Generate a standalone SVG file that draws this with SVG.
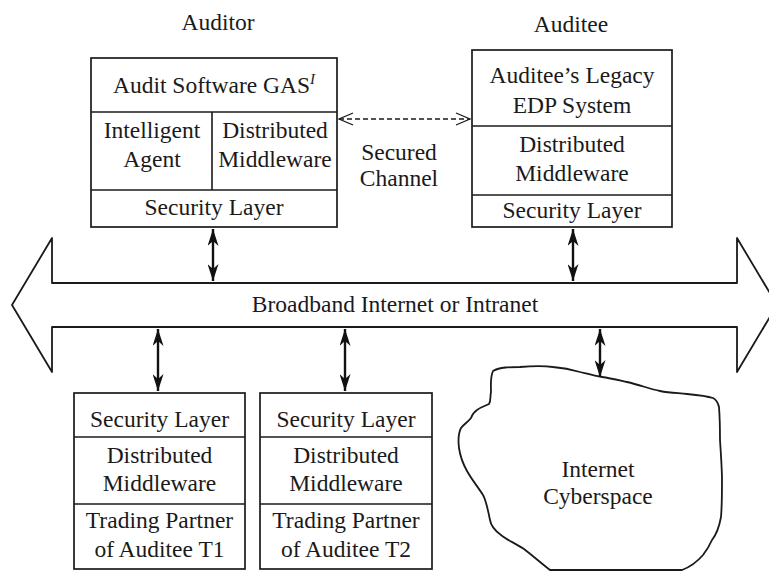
<svg xmlns="http://www.w3.org/2000/svg" width="769" height="572" viewBox="0 0 769 572">
<style>
  text { font-family: "Liberation Serif", "Times New Roman", serif; font-size: 23.5px; fill: #1a1a1a; text-anchor: middle; }
  .box { fill: #fff; stroke: #1a1a1a; stroke-width: 1.7; }
  .div { stroke: #1a1a1a; stroke-width: 1.6; fill: none; }
  .shape { fill: #fff; stroke: #1a1a1a; stroke-width: 1.8; stroke-linejoin: round; }
  .dbl { stroke: #111; stroke-width: 2.4; fill: none; marker-start: url(#solidHead); marker-end: url(#solidHead); }
  .dash { stroke: #1a1a1a; stroke-width: 1.3; stroke-dasharray: 5 3; fill: none; marker-start: url(#openHead); marker-end: url(#openHead); }
</style>
<defs>
  <marker id="solidHead" viewBox="0 0 17 11" refX="17" refY="5.5" markerWidth="17" markerHeight="11" markerUnits="userSpaceOnUse" orient="auto-start-reverse">
    <path d="M0,0 L17,5.5 L0,11 L5,5.5 z" fill="#111"/>
  </marker>
  <marker id="openHead" viewBox="0 0 16 14" refX="15" refY="7" markerWidth="16" markerHeight="14" markerUnits="userSpaceOnUse" orient="auto-start-reverse">
    <path d="M1,1 L15,7 L1,13" fill="none" stroke="#1a1a1a" stroke-width="1.3"/>
  </marker>
</defs>
<rect width="769" height="572" fill="#fff"/>

<g id="network">
  <path class="shape" d="M52,283 L52,238 L12,305 L52,372 L52,327 L737,327 L737,372 L777,305 L737,238 L737,283 Z"/>
  <text x="395" y="312">Broadband Internet or Intranet</text>
</g>

<g id="auditor">
  <text x="218" y="30">Auditor</text>
  <rect class="box" x="91" y="58" width="246" height="169"/>
  <line class="div" x1="91" y1="112" x2="337" y2="112"/>
  <line class="div" x1="91" y1="190" x2="337" y2="190"/>
  <line class="div" x1="212" y1="112" x2="212" y2="190"/>
  <text x="214" y="93">Audit Software GAS<tspan font-style="italic" font-size="15" dy="-9">I</tspan></text>
  <text x="152" y="138">Intelligent</text>
  <text x="152" y="167">Agent</text>
  <text x="275" y="138">Distributed</text>
  <text x="275" y="167">Middleware</text>
  <text x="214" y="215">Security Layer</text>
</g>

<g id="auditee">
  <text x="571" y="32">Auditee</text>
  <rect class="box" x="472" y="50" width="200" height="177"/>
  <line class="div" x1="472" y1="126" x2="672" y2="126"/>
  <line class="div" x1="472" y1="195" x2="672" y2="195"/>
  <text x="572" y="83">Auditee’s Legacy</text>
  <text x="572" y="113">EDP System</text>
  <text x="572" y="152">Distributed</text>
  <text x="572" y="181">Middleware</text>
  <text x="572" y="218">Security Layer</text>
</g>

<g id="partner-t1">
  <rect class="box" x="74" y="393" width="171" height="176"/>
  <line class="div" x1="74" y1="437" x2="245" y2="437"/>
  <line class="div" x1="74" y1="504" x2="245" y2="504"/>
  <text x="159.5" y="427">Security Layer</text>
  <text x="159.5" y="463">Distributed</text>
  <text x="159.5" y="491">Middleware</text>
  <text x="159.5" y="528">Trading Partner</text>
  <text x="159.5" y="557">of Auditee T1</text>
</g>

<g id="partner-t2">
  <rect class="box" x="260" y="393" width="172" height="176"/>
  <line class="div" x1="260" y1="437" x2="432" y2="437"/>
  <line class="div" x1="260" y1="504" x2="432" y2="504"/>
  <text x="346" y="427">Security Layer</text>
  <text x="346" y="463">Distributed</text>
  <text x="346" y="491">Middleware</text>
  <text x="346" y="528">Trading Partner</text>
  <text x="346" y="557">of Auditee T2</text>
</g>

<g id="cyberspace">
  <path class="shape" d="M493,371 C500,367 510,367 520,367 C533,366 545,366 553,367 C565,368 573,370 580,372 C588,374 595,376 602,377 C610,378 618,380 627,382 C640,385 650,389 660,391 C670,393 678,393 687,394 C698,395 707,396 713,398 C717,400 718,403 719,407 C720,420 720,430 720,440 C721,455 722,470 722,480 C722,495 722,505 721,517 C719,528 716,535 712,540 C709,547 706,551 703,555 C697,562 690,567 682,570 L550,570 C541,563 533,556 524,549 C515,543 507,540 501,535 C494,530 491,526 490,520 C488,510 486,500 483,495 C478,487 472,480 467,471 C462,462 460,455 459,448 C458,440 458,434 461,428 C464,424 468,422 471,418 C472,415 474,412 477,410 C481,407 485,406 489,404 C491,401 490,397 491,392 C491,385 490,378 493,371 Z"/>
  <text x="598" y="477">Internet</text>
  <text x="598" y="504">Cyberspace</text>
</g>

<g id="connectors">
  <line class="dash" x1="339" y1="119" x2="470" y2="119"/>
  <text x="399" y="160">Secured</text>
  <text x="399" y="186">Channel</text>
  <line class="dbl" x1="213" y1="229" x2="213" y2="281"/>
  <line class="dbl" x1="573" y1="229" x2="573" y2="281"/>
  <line class="dbl" x1="158" y1="329" x2="158" y2="391"/>
  <line class="dbl" x1="345" y1="329" x2="345" y2="391"/>
  <line class="dbl" x1="600" y1="329" x2="600" y2="377"/>
</g>
</svg>
